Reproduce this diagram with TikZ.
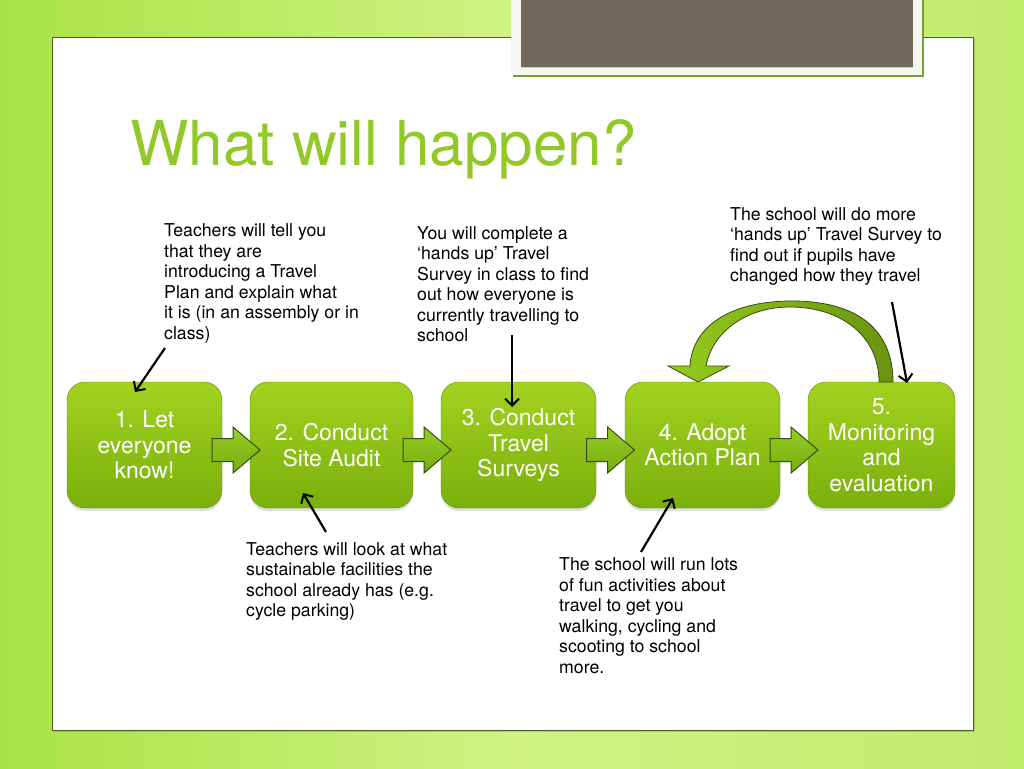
\documentclass[tikz,border=0pt]{standalone}
\usepackage{fontspec}
\setmainfont{TeX Gyre Heros}
\usetikzlibrary{arrows.meta,calc,shadows}
\definecolor{bgL}{RGB}{170,226,68}
\definecolor{bgM}{RGB}{206,243,132}
\definecolor{bgR}{RGB}{192,236,108}
\definecolor{panelline}{RGB}{75,95,35}
\definecolor{titlegreen}{RGB}{146,200,40}
\definecolor{boxtop}{RGB}{162,210,32}
\definecolor{boxbot}{RGB}{122,176,12}
\definecolor{arrowtop}{RGB}{152,206,36}
\definecolor{arrowbot}{RGB}{118,172,16}
\definecolor{arrowline}{RGB}{55,75,15}
\definecolor{curveL}{RGB}{150,202,30}
\definecolor{curveR}{RGB}{105,148,18}
\definecolor{greybox}{RGB}{112,104,90}
\definecolor{framecol}{RGB}{246,246,242}
\definecolor{frameshadow}{RGB}{115,160,40}
\begin{document}
\begin{tikzpicture}[x=1pt,y=-1pt,
  stepbox/.style={rounded corners=18pt, top color=boxtop, bottom color=boxbot,
    draw=boxbot!80!black, line width=0.4pt, text=white, align=center,
    minimum height=126pt, inner sep=0pt,
    font=\fontsize{23}{25.5}\selectfont,
    drop shadow={opacity=0.25, shadow xshift=0pt, shadow yshift=-3pt}},
  note/.style={anchor=north west, align=left, inner sep=0pt, text=black,
    font=\fontsize{17.7}{20.5}\selectfont},
  blockarrow/.style={top color=arrowtop, bottom color=arrowbot, draw=arrowline, line width=1pt, line join=miter},
  callout/.style={draw=black, line width=2.2pt, -{Straight Barb[length=7pt,width=14pt,line width=2pt]}}
]
\useasboundingbox (0,0) rectangle (1024,768);
% background
\shade[left color=bgL, right color=bgR, middle color=bgM] (0,0) rectangle (1024,768);
% panel
\fill[black, opacity=0.15] (54,39) rectangle (975,732);
\draw[panelline, fill=white, line width=0.9pt] (52,37) rectangle (973,730);
% top grey picture frame
\fill[frameshadow] (513,-2) rectangle (924,77);
\fill[framecol] (511,-2) rectangle (922,75);
\fill[greybox] (521,-2) rectangle (913,67);
\draw[gray!45, line width=1pt] (521,67.5) -- (913,67.5);
% title
\node[anchor=base west, inner sep=0pt, text=titlegreen, font=\fontsize{62}{70}\selectfont] (title) at (130,165) {What will happen?};
% boxes
\node[stepbox, minimum width=155pt] (b1) at (144.5,445) {1. Let\\everyone\\know!};
\node[stepbox, minimum width=163pt] (b2) at (331.5,445) {2. Conduct\\Site Audit};
\node[stepbox, minimum width=155pt] (b3) at (518.5,445) {3. Conduct\\Travel\\Surveys};
\node[stepbox, minimum width=155pt] (b4) at (702.5,445) {4. Adopt\\Action Plan};
\node[stepbox, minimum width=147pt] (b5) at (881.5,445) {5.\\Monitoring\\and\\evaluation};
% block arrows between boxes
\foreach \a/\b in {b1/b2, b2/b3, b3/b4, b4/b5} {
  \coordinate (m) at ($(\a.east)!0.5!(\b.west)+(0,5)$);
  \path[blockarrow] ($(m)+(-24,-11.5)$) -- ($(m)+(-3,-11.5)$) -- ($(m)+(-3,-23)$)
    -- ($(m)+(24,0)$) -- ($(m)+(-3,23)$) -- ($(m)+(-3,11.5)$) -- ($(m)+(-24,11.5)$) -- cycle;
}
% curved arrow from 5 back to 4
\path[left color=curveL, right color=curveR, draw=arrowline, line width=0.8pt, line join=miter]
  (893,382) .. controls (893,330) and (858,301) .. (792,301)
  .. controls (728,301) and (692,328) .. (690,366)
  -- (668,366) -- (698,382) -- (729,366) -- (706,366)
  .. controls (712,333) and (745,307) .. (790,307)
  .. controls (840,307) and (879,335) .. (879,382) -- cycle;
% notes
\node[note] (nA) at (164,223.8) {Teachers will tell you\\that they are\\introducing a Travel\\Plan and explain what\\it is (in an assembly or in\\class)};
\node[note] (nB) at (417,226.1) {You will complete a\\‘hands up’ Travel\\Survey in class to find\\out how everyone is\\currently travelling to\\school};
\node[note] (nC) at (730,207.3) {The school will do more\\‘hands up’ Travel Survey to\\find out if pupils have\\changed how they travel};
\node[note] (nD) at (246,542.3) {Teachers will look at what\\sustainable facilities the\\school already has (e.g.\\cycle parking)};
\node[note] (nE) at (559,557.5) {The school will run lots\\of fun activities about\\travel to get you\\walking, cycling and\\scooting to school\\more.};
% callout arrows
\coordinate (sA) at (165,348); \coordinate (eA) at (135,392);
\coordinate (sB) at (512,335); \coordinate (eB) at (512,407);
\coordinate (sC) at (892,302); \coordinate (eC) at (907,383);
\coordinate (sD) at (326,532); \coordinate (eD) at (303,493);
\coordinate (sE) at (641,552); \coordinate (eE) at (673,498);
\draw[callout] (sA) -- (eA);
\draw[callout] (sB) -- (eB);
\draw[callout] (sC) -- (eC);
\draw[callout] (sD) -- (eD);
\draw[callout] (sE) -- (eE);
\end{tikzpicture}
\end{document}
